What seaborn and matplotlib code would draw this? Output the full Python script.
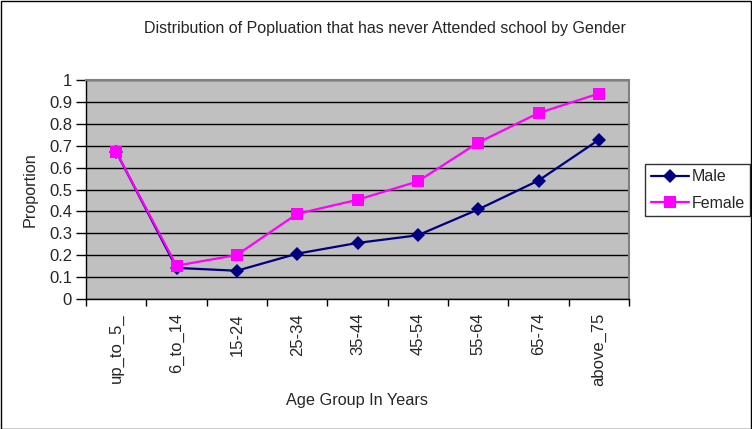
import matplotlib
matplotlib.use("Agg")
import matplotlib.pyplot as plt
import seaborn as sns
import pandas as pd
import numpy as np
from matplotlib.ticker import FixedLocator

categories = ["up_to_5_", "6_to_14", "15-24", "25-34", "35-44", "45-54", "55-64", "65-74", "above_75"]
male = [0.672, 0.142, 0.129, 0.207, 0.256, 0.291, 0.409, 0.541, 0.727]
female = [0.672, 0.152, 0.201, 0.389, 0.453, 0.537, 0.714, 0.849, 0.938]
y_ticks = [0, 0.1, 0.2, 0.3, 0.4, 0.5, 0.6, 0.7, 0.8, 0.9, 1]
y_tick_labels = ["0", "0.1", "0.2", "0.3", "0.4", "0.5", "0.6", "0.7", "0.8", "0.9", "1"]

sns.set_theme(style="white")
plt.rcParams['font.family'] = ['Liberation Sans', 'DejaVu Sans']

df = pd.DataFrame({
    "pos": list(range(len(categories))) * 2,
    "Proportion": male + female,
    "Gender": ["Male"] * len(categories) + ["Female"] * len(categories),
})

fig = plt.figure(figsize=(7.52, 4.29), dpi=100)
ax = fig.add_axes([86/752, 1 - 299/429, (629-86)/752, (299-80)/429])
ax.set_facecolor("#C0C0C0")

sns.lineplot(data=df, x="pos", y="Proportion", hue="Gender", style="Gender",
             palette={"Male": "#000080", "Female": "#FF00FF"},
             markers={"Male": "D", "Female": "s"},
             dashes=False, markersize=8, linewidth=1.6,
             markeredgewidth=0, ax=ax, legend=True)
for line in ax.get_lines():
    if line.get_marker() == "s":
        line.set_markersize(9)
    elif line.get_marker() == "D":
        line.set_markersize(7.5)

ax.set_xlim(-0.5, len(categories) - 0.5)
ax.set_ylim(0, 1)
ax.yaxis.set_major_locator(FixedLocator(y_ticks))
ax.set_yticklabels(y_tick_labels)
ax.grid(axis="y", color="black", linewidth=1, zorder=0)
ax.grid(axis="x", visible=False)
ax.set_axisbelow(True)

ax.xaxis.set_major_locator(FixedLocator(range(len(categories))))
ax.set_xticklabels(categories, rotation=90, fontsize=12)
ax.xaxis.set_minor_locator(FixedLocator(np.arange(-0.5, len(categories), 1.0)))
ax.tick_params(axis="x", which="major", length=0, pad=10)
ax.tick_params(axis="x", which="minor", length=5, width=1, color="black", direction="out", bottom=True)
ax.tick_params(axis="y", which="major", length=7, width=1, color="black", direction="out",
               left=True, labelsize=12, pad=3)

for side in ["top", "right"]:
    ax.spines[side].set_color("#808080")
    ax.spines[side].set_linewidth(1.5)
for side in ["left", "bottom"]:
    ax.spines[side].set_color("black")
    ax.spines[side].set_linewidth(1)

ax.set_xlabel("Age Group In Years", fontsize=11.7, labelpad=5)
ax.set_ylabel("Proportion", fontsize=11.7, labelpad=8)
fig.text(385/752, 1 - 28/429, "Distribution of Popluation that has never Attended school by Gender",
         ha="center", va="center", fontsize=11.5)

handles, labels = ax.get_legend_handles_labels()
leg = ax.legend(handles, labels, loc="center left", bbox_to_anchor=(645/752, 1 - 190/429),
                bbox_transform=fig.transFigure, frameon=True, fancybox=False,
                edgecolor="black", fontsize=11.5, handlelength=2.4, borderpad=0.35,
                labelspacing=0.7, handletextpad=0.15, borderaxespad=0)
leg.get_frame().set_linewidth(1)

fig.patches.append(plt.Rectangle((0.001, 0.001), 0.998, 0.997, transform=fig.transFigure,
                                 fill=False, edgecolor="black", linewidth=1))

fig.savefig("out.png", dpi=100, facecolor="white")
